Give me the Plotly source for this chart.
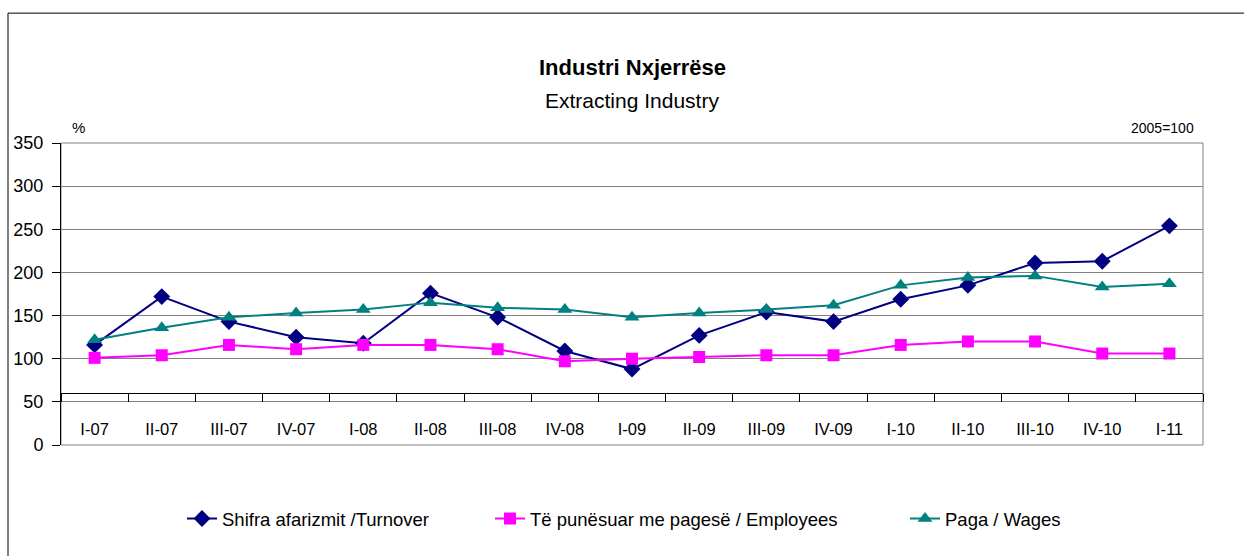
import plotly.graph_objects as go

# Quarterly indices, 2005=100
quarters = ['I-07', 'II-07', 'III-07', 'IV-07', 'I-08', 'II-08', 'III-08', 'IV-08',
            'I-09', 'II-09', 'III-09', 'IV-09', 'I-10', 'II-10', 'III-10', 'IV-10', 'I-11']
turnover = [116, 172, 143, 125, 118, 176, 148, 109, 88, 127, 154, 143, 169, 185, 211, 213, 254]
employees = [101, 104, 116, 111, 116, 116, 111, 97, 100, 102, 104, 104, 116, 120, 120, 106, 106]
wages = [122, 136, 148, 153, 157, 165, 159, 157, 148, 153, 157, 162, 185, 194, 196, 183, 187]

axis_cross = 60  # category axis crosses the value axis here
font_main = "Liberation Sans, Arial, sans-serif"

fig = go.Figure()

fig.add_trace(go.Scatter(
    x=quarters, y=turnover, mode='lines+markers', name='Shifra afarizmit /Turnover',
    line=dict(color='#000080', width=2),
    marker=dict(symbol='diamond', size=13, color='#000080'),
    legend='legend'
))
fig.add_trace(go.Scatter(
    x=quarters, y=employees, mode='lines+markers', name='Të punësuar me pagesë / Employees',
    line=dict(color='#FF00FF', width=2),
    marker=dict(symbol='square', size=12, color='#FF00FF'),
    legend='legend2'
))
fig.add_trace(go.Scatter(
    x=quarters, y=wages, mode='lines+markers', name='Paga / Wages',
    line=dict(color='#008080', width=2),
    marker=dict(symbol='triangle-up', size=13, color='#008080'),
    legend='legend3'
))

# one legend box per series so each entry can sit where it does in the original
leg = dict(orientation='h', xanchor='left', y=-0.245, yanchor='middle',
           font=dict(size=18.5), bgcolor='rgba(0,0,0,0)')

fig.update_layout(
    width=1244, height=556,
    paper_bgcolor='white', plot_bgcolor='white',
    margin=dict(l=61, r=41, t=143, b=111),
    font=dict(family=font_main, size=16, color='black'),
    showlegend=True,
    legend=dict(leg, x=(182 - 61) / 1142),
    legend2=dict(leg, x=(490 - 61) / 1142),
    legend3=dict(leg, x=(905 - 61) / 1142),
    xaxis=dict(
        type='category', range=[-0.5, len(quarters) - 0.5],
        anchor='free', position=axis_cross / 350,
        showline=True, linecolor='black', linewidth=1,
        ticks='outside', ticklen=8, tickcolor='black', tickson='boundaries',
        ticklabelstandoff=21, showgrid=False, tickfont=dict(size=16.5)
    ),
    yaxis=dict(
        range=[0, 350], dtick=50, showgrid=True, gridcolor='#808080', gridwidth=1,
        zeroline=False, showline=True, linecolor='black', linewidth=1,
        ticks='outside', ticklen=8, tickcolor='black', tickfont=dict(size=18),
        ticklabelstandoff=5
    ),
    shapes=[
        dict(type='rect', xref='x domain', yref='y domain', x0=0, x1=1, y0=0, y1=1,
             line=dict(color='#808080', width=1), layer='below'),
        dict(type='rect', xref='paper', yref='paper', x0=-0.0464, x1=1.2, y0=-0.6, y1=1.430,
             line=dict(color='black', width=1)),
    ],
    annotations=[
        dict(text='<b>Industri Nxjerrëse</b>', xref='paper', yref='paper', x=0.5, y=1.25,
             yanchor='middle', showarrow=False, font=dict(size=22)),
        dict(text='Extracting Industry', xref='paper', yref='paper', x=0.5, y=1.142,
             yanchor='middle', showarrow=False, font=dict(size=21)),
        dict(text='%', xref='paper', yref='paper', x=0.015, y=1.05, xanchor='center',
             yanchor='middle', showarrow=False, font=dict(size=15)),
        dict(text='2005=100', xref='paper', yref='paper', x=0.994, y=1.05, xanchor='right',
             yanchor='middle', showarrow=False, font=dict(size=14)),
    ],
)

fig.write_html("out.html", config={'displayModeBar': False},
               post_script="document.body.style.margin='0';")
